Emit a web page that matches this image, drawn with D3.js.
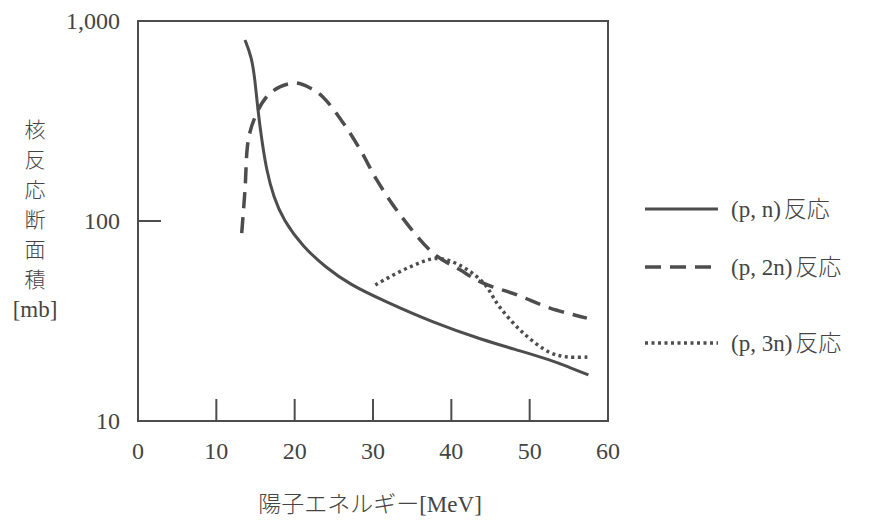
<!DOCTYPE html>
<html>
<head>
<meta charset="utf-8">
<script src="https://cdn.jsdelivr.net/npm/d3@7"></script>
<style>
  body { margin: 0; background: #fff; }
  svg text { font-family: "Liberation Serif", "Noto Sans CJK JP", serif; fill: #444; }
  svg tspan.cjk { font-family: "Noto Sans CJK JP", sans-serif; font-weight: 300; }
</style>
</head>
<body>
<svg id="chart" width="871" height="520"></svg>
<script>
// energy [MeV] / cross section [mb]
var pnEnergy   = [13.66, 14.5, 14.94, 15.3, 15.8, 16.4, 17.3, 18.55, 21.1, 24.1, 27.1, 31.3, 37.7, 44, 49, 52.6, 55, 57.5];
var pnValue    = [803, 663, 507, 359, 254, 180, 132, 101, 74, 58, 48, 40, 31, 25.4, 22.3, 20.2, 18.6, 17];
var p2nEnergy  = [13.24, 13.66, 14.08, 14.94, 16.4, 18.1, 20.2, 22, 23.6, 26.2, 28.4, 30.5, 33.5, 37.7, 41.1, 44, 48.4, 52.6, 57.3];
var p2nValue   = [87, 143, 254, 331, 417, 468, 490, 462, 417, 309, 226, 160, 107, 69, 57, 49, 42.7, 36.7, 32.7];
var p3nEnergy  = [30.3, 34.7, 38.2, 41.1, 44.1, 46.2, 49.2, 52.6, 54.8, 57.5];
var p3nValue   = [47.9, 58.9, 65, 60, 49, 37, 27.5, 22, 20.9, 20.9];

var xTicks = [0, 10, 20, 30, 40, 50, 60];
var yTicks = [10, 100, 1000];
var yTickLabels = ['10', '100', '1,000'];
var yTitle = ['核', '反', '応', '断', '面', '積', '[mb]'];
var xTitle = ['陽子エネルギー', '[MeV]'];
var seriesNames = [['(p, n)', '反応'], ['(p, 2n)', '反応'], ['(p, 3n)', '反応']];

(function () {
  var ink = '#4d4d4d';
  var svg = d3.select('#chart');

  var pLeft = 138, pRight = 608, pTop = 21, pBottom = 421;

  var x = d3.scaleLinear().domain([0, 60]).range([pLeft, pRight]);
  var y = d3.scaleLog().domain([10, 1000]).range([pBottom, pTop]);

  // frame
  svg.append('rect')
    .attr('x', pLeft).attr('y', pTop)
    .attr('width', pRight - pLeft).attr('height', pBottom - pTop)
    .attr('fill', 'none').attr('stroke', ink).attr('stroke-width', 2);

  // x ticks (inward) and labels
  xTicks.forEach(function (t) {
    if (t > 0 && t < 60) {
      svg.append('line')
        .attr('x1', x(t)).attr('x2', x(t))
        .attr('y1', pBottom).attr('y2', pBottom - 22)
        .attr('stroke', ink).attr('stroke-width', 2);
    }
    svg.append('text')
      .attr('x', x(t)).attr('y', pBottom + 38)
      .style('text-anchor', 'middle')
      .style('font-size', '24px')
      .text(t);
  });

  // y ticks and labels
  yTicks.forEach(function (t, i) {
    if (t === 100) {
      svg.append('line')
        .attr('x1', pLeft).attr('x2', pLeft + 23)
        .attr('y1', y(t)).attr('y2', y(t))
        .attr('stroke', ink).attr('stroke-width', 2);
    }
    svg.append('text')
      .attr('x', 120).attr('y', y(t) + 8)
      .style('text-anchor', 'end')
      .style('font-size', '24px')
      .text(yTickLabels[i]);
  });

  // axis titles
  yTitle.forEach(function (c, i) {
    var t = svg.append('text')
      .attr('x', 35).attr('y', 137 + i * 30)
      .style('text-anchor', 'middle')
      .style('font-size', i < 6 ? '21px' : '23px');
    if (i < 6) t.append('tspan').attr('class', 'cjk').text(c);
    else t.text(c);
  });

  var xt = svg.append('text')
    .attr('x', 370).attr('y', 512)
    .style('text-anchor', 'middle')
    .style('font-size', '23px');
  xt.append('tspan').attr('class', 'cjk').text(xTitle[0]);
  xt.append('tspan').text(xTitle[1]);

  // curves
  var styles = [
    { dash: null, width: 3, curve: d3.curveBasis },
    { dash: '16,9', width: 3.5, curve: d3.curveCatmullRom.alpha(0.5) },
    { dash: '3,3.5', width: 3.5, curve: d3.curveCatmullRom.alpha(0.5) }
  ];

  var series = [
    d3.zip(pnEnergy, pnValue),
    d3.zip(p2nEnergy, p2nValue),
    d3.zip(p3nEnergy, p3nValue)
  ];

  series.forEach(function (s, i) {
    var line = d3.line()
      .x(function (d) { return x(d[0]); })
      .y(function (d) { return y(d[1]); })
      .curve(styles[i].curve);
    svg.append('path')
      .datum(s)
      .attr('d', line)
      .attr('fill', 'none')
      .attr('stroke', ink)
      .attr('stroke-width', styles[i].width)
      .attr('stroke-dasharray', styles[i].dash);
  });

  // legend
  var legendY = [209, 267, 343];
  seriesNames.forEach(function (name, i) {
    svg.append('line')
      .attr('x1', 645).attr('x2', 718)
      .attr('y1', legendY[i]).attr('y2', legendY[i])
      .attr('stroke', ink)
      .attr('stroke-width', styles[i].width)
      .attr('stroke-dasharray', styles[i].dash);
    var lt = svg.append('text')
      .attr('x', 731).attr('y', legendY[i] + 8)
      .style('font-size', '23px');
    lt.append('tspan').text(name[0]);
    lt.append('tspan').attr('class', 'cjk').attr('dx', 3).text(name[1]);
  });
})();
</script>
</body>
</html>
